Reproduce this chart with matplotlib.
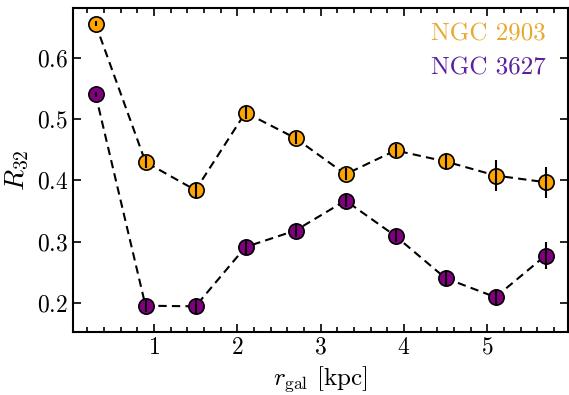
import numpy as np
import matplotlib
matplotlib.use("Agg")
import matplotlib.pyplot as plt
from matplotlib.ticker import MultipleLocator

plt.rcParams['font.family'] = 'serif'
plt.rcParams['font.serif'] = ['cmr10']
plt.rcParams['mathtext.fontset'] = 'cm'
plt.rcParams['axes.formatter.use_mathtext'] = True

r_gal = [0.3, 0.9, 1.5, 2.1, 2.7, 3.3, 3.9, 4.5, 5.1, 5.7]
r32_2903 = [0.656, 0.430, 0.384, 0.511, 0.469, 0.410, 0.449, 0.431, 0.408, 0.397]
err_2903 = [0.004, 0.010, 0.012, 0.010, 0.010, 0.010, 0.011, 0.012, 0.025, 0.025]
r32_3627 = [0.541, 0.195, 0.194, 0.291, 0.318, 0.367, 0.309, 0.240, 0.209, 0.277]
err_3627 = [0.004, 0.010, 0.013, 0.012, 0.010, 0.010, 0.010, 0.012, 0.013, 0.022]
names = ["NGC 2903", "NGC 3627"]
face_colors = ["#FFA500", "#800080"]
text_colors = ["#E8A930", "#5A1E9E"]

fig = plt.figure(figsize=(5.69, 3.95), dpi=100)
ax = fig.add_axes([73/569, 1-332/395, 495/569, 324/395])

for y, e, fc in [(r32_2903, err_2903, face_colors[0]), (r32_3627, err_3627, face_colors[1])]:
    ax.plot(r_gal, y, ls='--', color='black', lw=1.5, dashes=(4, 2.5), zorder=1)
    ax.plot(r_gal, y, ls='none', marker='o', ms=11, mfc=fc, mec='black', mew=1.2, zorder=2)
    ax.errorbar(r_gal, y, yerr=e, fmt='none', ecolor='black', elinewidth=1.5, capsize=0, zorder=3)

ax.set_xlim(0.03, 5.97)
ax.set_ylim(0.152, 0.682)
ax.xaxis.set_major_locator(MultipleLocator(1))
ax.xaxis.set_minor_locator(MultipleLocator(0.2))
ax.yaxis.set_major_locator(MultipleLocator(0.1))
ax.tick_params(which='both', direction='in', top=True, right=True, labelsize=17, width=1.2)
ax.tick_params(which='major', length=6)
ax.tick_params(which='minor', length=3.5)
ax.tick_params(axis='y', which='minor', left=False, right=False)
for s in ax.spines.values():
    s.set_linewidth(1.5)

ax.set_xlabel(r'$r_{\rm gal}$ [kpc]', fontsize=18)
ax.set_ylabel(r'$R_{32}$', fontsize=20)

ax.text(0.955, 0.917, names[0], transform=ax.transAxes, ha='right', va='center', fontsize=18, color=text_colors[0])
ax.text(0.955, 0.815, names[1], transform=ax.transAxes, ha='right', va='center', fontsize=18, color=text_colors[1])

fig.savefig("out.png", dpi=100)
